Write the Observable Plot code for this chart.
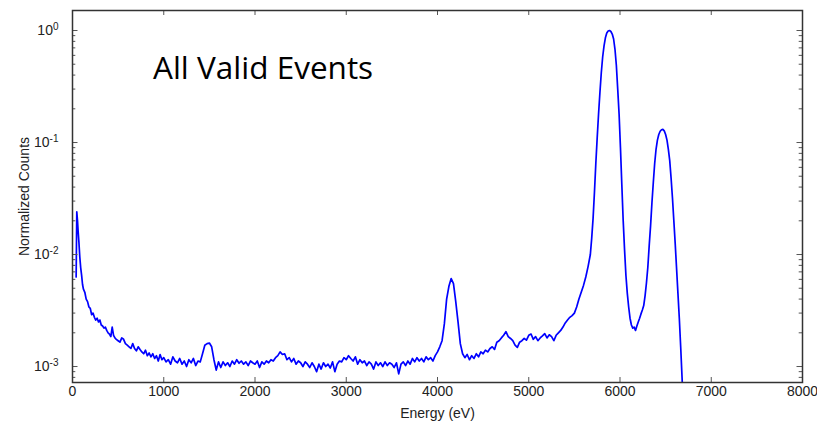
<!DOCTYPE html>
<html><head><meta charset="utf-8">
<script src="https://cdn.jsdelivr.net/npm/d3@7"></script>
<script src="https://cdn.jsdelivr.net/npm/@observablehq/plot@0.6"></script>
<style>html,body{margin:0;padding:0;background:#fff}#chart{width:817px;height:424px}</style>
</head><body><div id="chart"></div>
<script>
// ---- data (energy in eV, normalized counts) ----
const energyLow = [40,47,55,62,70,80,90,100,110,120,
  135,150,165,180,195,210,225,240,255,270,
  285,300,315,330,345,360,375,390,405,420,
  435,450,465,480,500,520,540,560,580,600,
  620,640,660,680,700,720,740,760,780,800,
  820,840,860,880,900,920,940,960,980,1000];
const countsLow = [6.3e-3,2.4e-2,2.0e-2,1.6e-2,1.3e-2,9.5e-3,7.6e-3,6.5e-3,5.4e-3,4.9e-3,
  4.6e-3,4.0e-3,3.8e-3,3.4e-3,3.3e-3,2.9e-3,3.0e-3,2.75e-3,2.6e-3,2.7e-3,
  2.5e-3,2.6e-3,2.35e-3,2.3e-3,2.2e-3,2.25e-3,2.1e-3,2.0e-3,1.95e-3,1.85e-3,
  2.25e-3,1.9e-3,1.8e-3,1.75e-3,1.7e-3,1.65e-3,1.8e-3,1.75e-3,1.6e-3,1.55e-3,
  1.5e-3,1.45e-3,1.6e-3,1.45e-3,1.38e-3,1.5e-3,1.42e-3,1.35e-3,1.3e-3,1.4e-3,
  1.25e-3,1.32e-3,1.22e-3,1.3e-3,1.18e-3,1.25e-3,1.12e-3,1.28e-3,1.15e-3,1.2e-3];

const energyMid = [1025,1050,1075,1100,1125,1150,1175,1200,
  1225,1250,1275,1300,1325,1350,1375,1400,
  1425,1450,1475,1500,1525,1550,1575,1600,
  1625,1650,1675,1700,1725,1750,1775,1800,
  1825,1850,1875,1900,1925,1950,1975,2000,
  2025,2050,2075,2100,2125,2150,2175,2200,
  2225,2250,2275,2300,2325,2350,2375,2400,
  2425,2450,2475,2500,2525,2550,2575,2600,
  2625,2650,2675,2700,2725,2750,2775,2800,
  2825,2850,2875,2900,2925,2950,2975,3000,
  3025,3050,3075,3100,3125,3150,3175,3200,
  3225,3250,3275,3300,3325,3350,3375,3400,
  3425,3450,3475,3500,3525,3550,3575,3600,
  3625,3650,3675,3700,3725,3750,3775,3800,
  3825,3850,3875,3900,3925,3950,3975,4000];
const countsMid = [1.1e-3,1.15e-3,1.05e-3,1.22e-3,1.12e-3,1.08e-3,1.18e-3,1.05e-3,
  1.12e-3,1.0e-3,1.15e-3,1.08e-3,1.18e-3,1.02e-3,1.12e-3,1.1e-3,
  1.3e-3,1.55e-3,1.6e-3,1.62e-3,1.5e-3,1.15e-3,0.93e-3,1.1e-3,
  0.98e-3,1.1e-3,1.02e-3,1.08e-3,1.0e-3,1.12e-3,1.05e-3,1.15e-3,
  1.07e-3,1.12e-3,1.05e-3,1.1e-3,1.02e-3,1.12e-3,1.08e-3,1.05e-3,
  1.12e-3,0.98e-3,1.1e-3,1.05e-3,1.12e-3,1.08e-3,1.15e-3,1.12e-3,
  1.2e-3,1.25e-3,1.35e-3,1.28e-3,1.3e-3,1.15e-3,1.2e-3,1.1e-3,
  1.18e-3,1.05e-3,1.12e-3,1.08e-3,1.0e-3,1.1e-3,1.05e-3,0.98e-3,
  1.08e-3,1.0e-3,0.9e-3,1.05e-3,0.95e-3,1.08e-3,1.0e-3,1.05e-3,
  0.97e-3,1.1e-3,0.9e-3,1.05e-3,1.12e-3,1.1e-3,1.2e-3,1.15e-3,
  1.25e-3,1.18e-3,1.12e-3,1.22e-3,1.05e-3,1.15e-3,1.08e-3,1.12e-3,
  1.02e-3,1.1e-3,1.05e-3,0.95e-3,1.1e-3,1.02e-3,1.08e-3,1.0e-3,
  1.1e-3,1.02e-3,1.08e-3,1.05e-3,0.98e-3,1.08e-3,0.86e-3,1.05e-3,
  1.1e-3,1.02e-3,1.12e-3,1.05e-3,1.18e-3,1.1e-3,1.2e-3,1.12e-3,
  1.18e-3,1.1e-3,1.22e-3,1.15e-3,1.2e-3,1.12e-3,1.25e-3,1.35e-3];

const energyHigh = [4025,4050,4075,4100,4125,4150,4175,4200,
  4225,4250,4275,4300,4325,4350,4375,4400,
  4425,4450,4475,4500,4525,4550,4575,4600,
  4625,4650,4675,4700,4725,4750,4775,4800,
  4825,4850,4875,4900,4925,4950,4975,5000,
  5025,5050,5075,5100,5125,5150,5175,5200,
  5225,5250,5275,5300,5325,5350,5375,5400,
  5425,5450,5475,5500,5525,5550,5575,5600,
  5625,5650,5675];
const countsHigh = [1.5e-3,1.7e-3,2.4e-3,4.0e-3,5.2e-3,6.1e-3,5.5e-3,3.8e-3,
  2.5e-3,1.6e-3,1.3e-3,1.2e-3,1.28e-3,1.15e-3,1.25e-3,1.18e-3,
  1.3e-3,1.22e-3,1.35e-3,1.3e-3,1.4e-3,1.35e-3,1.45e-3,1.5e-3,
  1.42e-3,1.65e-3,1.7e-3,1.8e-3,1.9e-3,2.05e-3,1.85e-3,1.78e-3,
  1.7e-3,1.55e-3,1.48e-3,1.65e-3,1.7e-3,1.78e-3,1.72e-3,1.9e-3,
  1.95e-3,1.75e-3,1.85e-3,1.7e-3,1.8e-3,1.88e-3,1.97e-3,1.8e-3,
  1.92e-3,1.85e-3,1.7e-3,1.9e-3,2.0e-3,2.1e-3,2.25e-3,2.45e-3,
  2.6e-3,2.75e-3,2.85e-3,3.0e-3,3.4e-3,4.0e-3,4.6e-3,5.3e-3,
  6.3e-3,7.8e-3,1.0e-2];

const energyPeaks = [5690,5705,5720,5735,5750,5765,5780,5795,5810,5825,
  5840,5855,5870,5885,5900,5915,5930,5945,5960,5975,
  5990,6005,6020,6035,6050,6065,6080,6095,6110,6125,
  6140,6155,6170,6185,6200,6215,6230,6245,6260,6275,
  6290,6305,6320,6335,6350,6365,6380,6395,6410,6425,
  6440,6455,6470,6485,6500,6515,6530,6545,6560,6575,
  6590,6605,6620,6635,6650,6665,6680,6695];
const countsPeaks = [0.014,0.021,0.036,0.065,0.11,0.18,0.28,0.42,0.58,0.73,
  0.86,0.95,0.99,1.0,0.98,0.93,0.84,0.68,0.49,0.3,
  0.18,0.09,0.042,0.02,0.011,0.0065,0.0045,0.0034,0.0027,0.00235,
  0.0022,0.00225,0.0021,0.0023,0.0025,0.0027,0.00295,0.0032,0.0035,0.0043,
  0.0056,0.0077,0.012,0.018,0.029,0.044,0.065,0.087,0.105,0.118,
  0.126,0.13,0.131,0.127,0.118,0.105,0.087,0.069,0.048,0.032,
  0.02,0.0125,0.0075,0.0045,0.0027,0.0015,0.0008,0.0004];

const xTicks = [0,1000,2000,3000,4000,5000,6000,7000,8000];
const yMajor = [1e-3,1e-2,1e-1,1];
const yMinor = [8e-4,9e-4,
  2e-3,3e-3,4e-3,5e-3,6e-3,7e-3,8e-3,9e-3,
  2e-2,3e-2,4e-2,5e-2,6e-2,7e-2,8e-2,9e-2,
  0.2,0.3,0.4,0.5,0.6,0.7,0.8,0.9];
const titleText = "All Valid Events";
const xLabel = "Energy (eV)";
const yLabel = "Normalized Counts";

// ---- build table ----
const energy = [...energyLow, ...energyMid, ...energyHigh, ...energyPeaks];
const counts = [...countsLow, ...countsMid, ...countsHigh, ...countsPeaks];
const spectrum = energy.map((e, i) => ({energy: e, counts: counts[i]}));

const W = 817, H = 424, mL = 72, mR = 15, mT = 10, mB = 42;
const pw = W - mL - mR, ph = H - mT - mB;
const tickColor = "#555";

const chart = Plot.plot({
  width: W, height: H,
  marginLeft: mL, marginRight: mR, marginTop: mT, marginBottom: mB,
  style: {fontFamily: "'Liberation Sans', Arial, sans-serif", fontSize: "14px", background: "#fff", color: "#222"},
  x: {domain: [0, 8000]},
  y: {type: "log", domain: [7.2e-4, 1.509]},
  marks: [
    Plot.line(spectrum, {x: "energy", y: "counts", stroke: "#0000ff", strokeWidth: 1.7, clip: true}),
    // inward ticks on all four sides
    Plot.tickY(yMajor, {y: d => d, insetRight: pw - 5.5, stroke: tickColor}),
    Plot.tickY(yMajor, {y: d => d, insetLeft: pw - 5.5, stroke: tickColor}),
    Plot.tickY(yMinor, {y: d => d, insetRight: pw - 3.3, stroke: tickColor}),
    Plot.tickY(yMinor, {y: d => d, insetLeft: pw - 3.3, stroke: tickColor}),
    Plot.tickX(xTicks, {x: d => d, insetTop: ph - 5, stroke: tickColor}),
    Plot.tickX(xTicks, {x: d => d, insetBottom: ph - 5, stroke: tickColor}),
    Plot.frame({stroke: "#333", strokeWidth: 1.5}),
    Plot.axisX({ticks: xTicks, tickSize: 0, tickPadding: 4, tickFormat: d => String(d),
      label: xLabel, labelAnchor: "center", labelArrow: "none", labelOffset: 35}),
    Plot.axisY({ticks: yMajor, tickSize: 0, tickPadding: 14, tickFormat: d => String(Math.round(Math.log10(d))),
      label: yLabel, labelAnchor: "center", labelArrow: "none", labelOffset: 53})
  ]
});

// superscript exponents on y tick labels
chart.querySelectorAll('g[aria-label="y-axis tick label"] text').forEach(t => {
  const exp = t.textContent;
  t.textContent = "";
  const base = document.createElementNS("http://www.w3.org/2000/svg", "tspan");
  base.textContent = "10";
  const sup = document.createElementNS("http://www.w3.org/2000/svg", "tspan");
  sup.textContent = exp;
  sup.setAttribute("dy", "-0.5em");
  sup.setAttribute("font-size", "10px");
  t.appendChild(base); t.appendChild(sup);
});

// annotation
const ttl = document.createElementNS("http://www.w3.org/2000/svg", "text");
ttl.setAttribute("x", 153);
ttl.setAttribute("y", 79);
ttl.setAttribute("text-anchor", "start");
ttl.setAttribute("font-family", "'Open Sans', sans-serif");
ttl.setAttribute("font-size", "31.5");
ttl.setAttribute("fill", "#000");
ttl.textContent = titleText;
chart.appendChild(ttl);

document.getElementById("chart").appendChild(chart);
</script></body></html>
